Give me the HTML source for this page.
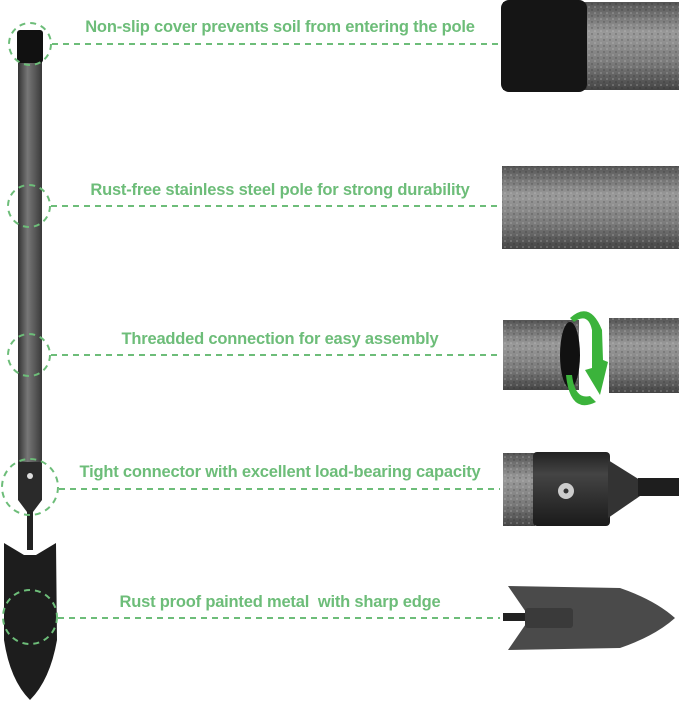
<!DOCTYPE html>
<html><head><meta charset="utf-8"><style>
body{margin:0;width:679px;height:703px;background:#fff;position:relative;overflow:hidden;font-family:"Liberation Sans",sans-serif}
.t{position:absolute;left:60px;width:440px;text-align:center;color:#6dbd79;font-size:16.5px;font-weight:bold;letter-spacing:-0.2px}
</style></head><body>
<svg width="679" height="703" style="position:absolute;left:0;top:0">
<defs>
<linearGradient id="pole" x1="0" x2="0" y1="0" y2="1"><stop offset="0" stop-color="#555"/><stop offset=".35" stop-color="#9a9a9a"/><stop offset=".7" stop-color="#7a7a7a"/><stop offset="1" stop-color="#444"/></linearGradient>
<linearGradient id="poleV" x1="0" x2="1"><stop offset="0" stop-color="#333"/><stop offset=".4" stop-color="#777"/><stop offset="1" stop-color="#3a3a3a"/></linearGradient>
<linearGradient id="blk" x1="0" x2="0" y1="0" y2="1"><stop offset="0" stop-color="#222"/><stop offset=".3" stop-color="#444"/><stop offset="1" stop-color="#1a1a1a"/></linearGradient>
<pattern id="sp" width="6" height="6" patternUnits="userSpaceOnUse"><circle cx="1" cy="1" r="0.8" fill="#ccc" opacity=".5"/><circle cx="4" cy="4" r="0.7" fill="#222" opacity=".5"/></pattern>
</defs>
<rect x="18" y="40" width="24" height="425" fill="url(#poleV)"/>
<rect x="17" y="30" width="26" height="33" rx="3" fill="#111"/>
<rect x="18" y="462" width="24" height="38" fill="#2a2a2a"/>
<polygon points="18,500 42,500 33,512 27,512" fill="#2a2a2a"/>
<circle cx="30" cy="476" r="3" fill="#ddd"/>
<rect x="27" y="510" width="6" height="40" fill="#222"/>
<path d="M4,543 L24,555 L36,555 L56,543 L57,640 Q50,680 30,700 Q10,680 4,640 Z" fill="#1d1d1d"/>
<g fill="none" stroke="#6dbd79" stroke-width="2" stroke-dasharray="6,5">
<circle cx="30" cy="44" r="21"/><circle cx="29" cy="206" r="21"/><circle cx="29" cy="355" r="21"/>
<circle cx="30" cy="487" r="28"/><circle cx="30" cy="617" r="27"/>
<line x1="52" y1="44" x2="500" y2="44"/><line x1="51" y1="206" x2="500" y2="206"/><line x1="51" y1="355" x2="500" y2="355"/>
<line x1="59" y1="489" x2="500" y2="489"/><line x1="58" y1="618" x2="500" y2="618"/>
</g>
<rect x="503" y="2" width="176" height="88" fill="url(#pole)"/><rect x="503" y="2" width="176" height="88" fill="url(#sp)"/>
<rect x="501" y="0" width="86" height="92" rx="8" fill="#151515"/>
<rect x="502" y="166" width="177" height="83" fill="url(#pole)"/><rect x="502" y="166" width="177" height="83" fill="url(#sp)"/>
<rect x="503" y="320" width="76" height="70" fill="url(#pole)"/><rect x="503" y="320" width="76" height="70" fill="url(#sp)"/>
<ellipse cx="570" cy="355" rx="10" ry="33" fill="#111"/>
<rect x="609" y="318" width="70" height="75" fill="url(#pole)"/><rect x="609" y="318" width="70" height="75" fill="url(#sp)"/>
<path d="M570,318 Q590,300 602,330 L603,360 L608,362 L600,395 L585,370 L592,368 L592,330 Q588,312 574,322 Z" fill="#3bb33b"/>
<path d="M566,375 Q570,415 596,402 L590,396 Q575,400 572,375 Z" fill="#3bb33b"/>
<rect x="503" y="453" width="32" height="73" fill="url(#pole)"/><rect x="503" y="453" width="32" height="73" fill="url(#sp)"/>
<rect x="533" y="452" width="77" height="74" rx="4" fill="url(#blk)"/>
<polygon points="608,460 640,480 640,496 608,518" fill="#333"/>
<rect x="638" y="478" width="41" height="18" fill="#1e1e1e"/>
<circle cx="566" cy="491" r="8" fill="#ccc"/><circle cx="566" cy="491" r="2.5" fill="#333"/>
<rect x="503" y="613" width="30" height="8" fill="#222"/>
<path d="M508,586 L620,588 Q655,600 675,618 Q655,636 620,648 L508,650 L530,618 Z" fill="#4a4a4a"/>
<rect x="525" y="608" width="48" height="20" rx="3" fill="#3a3a3a"/>
</svg>
<div class="t" style="top:18px">Non-slip cover prevents soil from entering the pole</div>
<div class="t" style="top:181px">Rust-free stainless steel pole for strong durability</div>
<div class="t" style="top:330px">Threadded connection for easy assembly</div>
<div class="t" style="top:463px">Tight connector with excellent load-bearing capacity</div>
<div class="t" style="top:593px">Rust proof painted metal&nbsp; with sharp edge</div>
</body></html>
